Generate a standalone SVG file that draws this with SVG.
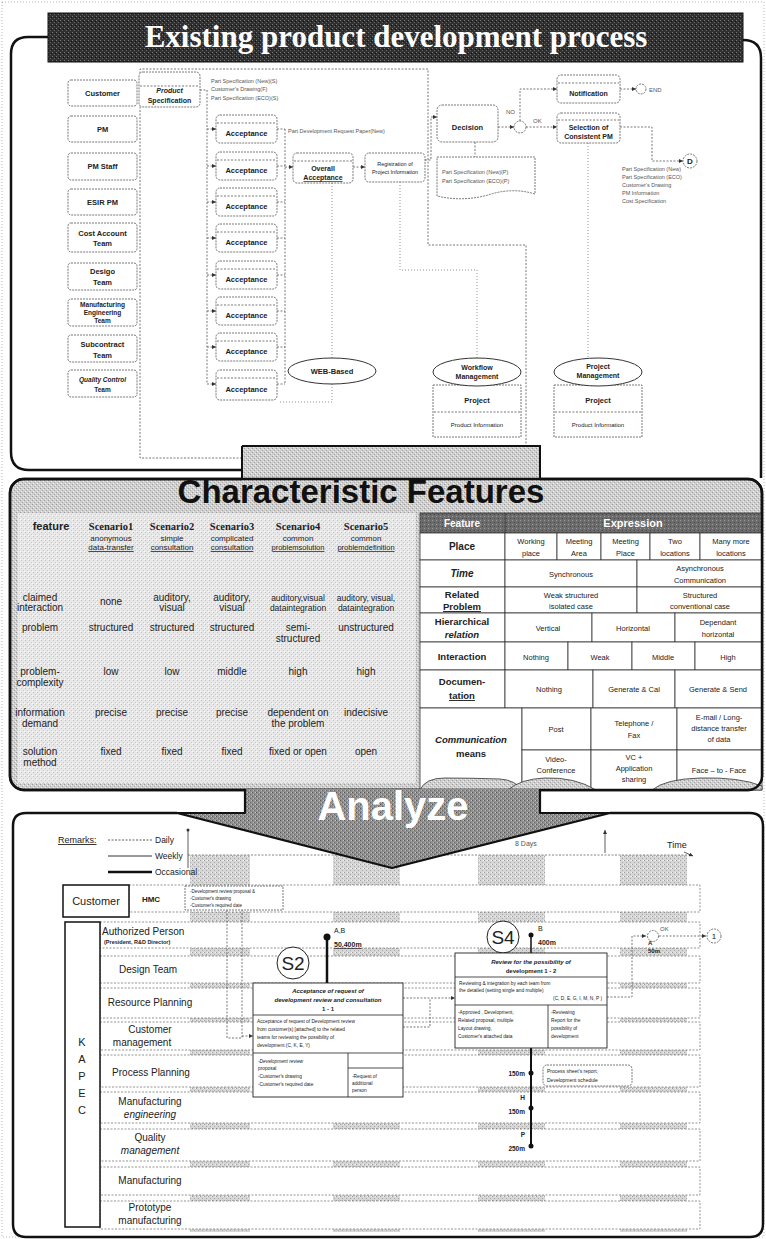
<svg xmlns="http://www.w3.org/2000/svg" width="766" height="1239" viewBox="0 0 766 1239">
<defs>
<pattern id="pg" width="4" height="4" patternUnits="userSpaceOnUse"><rect width="4" height="4" fill="#cfcfcf"/><rect x="0" y="0" width="1" height="1" fill="#999"/><rect x="2" y="2" width="1" height="1" fill="#a8a8a8"/><rect x="3" y="1" width="1" height="1" fill="#eee"/><rect x="1" y="3" width="1" height="1" fill="#eee"/></pattern>
<pattern id="pt" width="4" height="4" patternUnits="userSpaceOnUse"><rect width="4" height="4" fill="#e8e8e8"/><rect x="1" y="0" width="1" height="1" fill="#c2c2c2"/><rect x="3" y="2" width="1" height="1" fill="#cacaca"/><rect x="0" y="3" width="1" height="1" fill="#fafafa"/></pattern>
<pattern id="pd" width="4" height="4" patternUnits="userSpaceOnUse"><rect width="4" height="4" fill="#8f8f8f"/><rect x="0" y="0" width="1" height="1" fill="#555"/><rect x="2" y="2" width="1" height="1" fill="#666"/><rect x="3" y="0" width="1" height="1" fill="#c4c4c4"/><rect x="1" y="2" width="1" height="1" fill="#bbb"/></pattern>
<pattern id="pk" width="4" height="4" patternUnits="userSpaceOnUse"><rect width="4" height="4" fill="#303030"/><rect x="0" y="0" width="1" height="1" fill="#777"/><rect x="2" y="2" width="1" height="1" fill="#666"/><rect x="3" y="1" width="1" height="1" fill="#111"/></pattern>
<pattern id="pl" width="4" height="4" patternUnits="userSpaceOnUse"><rect width="4" height="4" fill="#d6d6d6"/><rect x="0" y="0" width="1" height="1" fill="#a0a0a0"/><rect x="2" y="2" width="1" height="1" fill="#aaa"/><rect x="3" y="0" width="1" height="1" fill="#f2f2f2"/></pattern>
<pattern id="ph" width="4" height="4" patternUnits="userSpaceOnUse"><rect width="4" height="4" fill="#6c6c6c"/><rect x="0" y="0" width="1" height="1" fill="#999"/><rect x="2" y="2" width="1" height="1" fill="#444"/></pattern>
<marker id="ah" viewBox="0 0 6 6" refX="6" refY="3" markerWidth="5" markerHeight="5" orient="auto"><path d="M0,0L6,3L0,6z" fill="#333"/></marker>
</defs>
<style>
text{font-family:"Liberation Sans",Arial,sans-serif;fill:#222}
.c{text-anchor:middle}
.e{text-anchor:end}
.b{font-weight:bold}
.i{font-style:italic}
.u{text-decoration:underline}
.w{fill:#fff}
.g{fill:#555}
.serif{font-family:"Liberation Serif","Times New Roman",serif}
.dl{fill:none;stroke:#555;stroke-width:.8;stroke-dasharray:2 1.5}
.dt{fill:none;stroke:#777;stroke-width:.8;stroke-dasharray:1 2}
.bx{fill:#fff;stroke:#555;stroke-width:.8;stroke-dasharray:2 1}
.cell{fill:#fff;stroke:#333;stroke-width:.8}
.fr{fill:none;stroke:#111;stroke-width:2.5;stroke-linejoin:round}
.row{fill:#fff;stroke:#666;stroke-width:.7;stroke-dasharray:2 1.5}
.sb{fill:#fff;stroke:#222;stroke-width:.9}
.sl{stroke:#222;stroke-width:.8}
</style>
<rect x="2" y="2" width="762" height="1235" fill="#fff" stroke="#999" stroke-width=".7" stroke-dasharray="1 2"/>

<!-- ================= TOP SECTION ================= -->
<g id="top-frame">
<path class="fr" d="M48,37 H28 Q11,37 11,54 V452 Q11,470 29,470 H242"/>
<path class="fr" d="M743,40 Q761,40 761,58 V478"/>
<rect x="48" y="13" width="695" height="49" fill="url(#pk)" stroke="#111"/>
<text x="396" y="47" class="c serif b w" font-size="31">Existing product development process</text>
</g>

<g id="lanes">
<rect x="68" y="80" width="69" height="26" rx="3" class="bx"/><text x="102.5" y="96" class="c b" font-size="7.5">Customer</text>
<rect x="68" y="116" width="69" height="26" rx="3" class="bx"/><text x="102.5" y="132" class="c b" font-size="7.5">PM</text>
<rect x="68" y="153" width="69" height="27" rx="3" class="bx"/><text x="102.5" y="169" class="c b" font-size="7.5">PM Staff</text>
<rect x="68" y="189" width="69" height="26" rx="3" class="bx"/><text x="102.5" y="205" class="c b" font-size="7.5">ESIR PM</text>
<rect x="68" y="223" width="69" height="29" rx="3" class="bx"/><text x="102.5" y="236" class="c b" font-size="7.5">Cost Account</text><text x="102.5" y="246" class="c b" font-size="7.5">Team</text>
<rect x="68" y="263" width="69" height="27" rx="3" class="bx"/><text x="102.5" y="274" class="c b" font-size="7.5">Desigo</text><text x="102.5" y="285" class="c b" font-size="7.5">Team</text>
<rect x="68" y="299" width="69" height="27" rx="3" class="bx"/><text x="102.5" y="307" class="c b" font-size="6.5">Manufacturing</text><text x="102.5" y="315" class="c b" font-size="6.5">Engineering</text><text x="102.5" y="323" class="c b" font-size="6.5">Team</text>
<rect x="68" y="335" width="69" height="27" rx="3" class="bx"/><text x="102.5" y="347" class="c b" font-size="7.5">Subcontract</text><text x="102.5" y="358" class="c b" font-size="7.5">Team</text>
<rect x="68" y="370" width="69" height="27" rx="3" class="bx"/><text x="102.5" y="382" class="c b i" font-size="6.5">Quality Control</text><text x="102.5" y="392" class="c b" font-size="6.5">Team</text>
</g>

<g id="top-connectors">
<path class="dl" d="M242,458 H140 V69 H428 V245 H526 V450"/>
<path class="dl" d="M200,90 H207 V384"/>
<path class="dl" d="M207,129 H216" marker-end="url(#ah)"/>
<path class="dl" d="M207,166 H216" marker-end="url(#ah)"/>
<path class="dl" d="M207,202 H216" marker-end="url(#ah)"/>
<path class="dl" d="M207,238 H216" marker-end="url(#ah)"/>
<path class="dl" d="M207,275 H216" marker-end="url(#ah)"/>
<path class="dl" d="M207,311 H216" marker-end="url(#ah)"/>
<path class="dl" d="M207,347 H216" marker-end="url(#ah)"/>
<path class="dl" d="M207,384 H216" marker-end="url(#ah)"/>
<path class="dl" d="M277,129 H285 M277,166 H285 M277,202 H285 M277,238 H285 M277,275 H285 M277,311 H285 M277,347 H285 M277,384 H285 M285,129 V384"/>
<path class="dl" d="M285,167 H293" marker-end="url(#ah)"/>
<path class="dl" d="M353,167 H365" marker-end="url(#ah)"/>
<path class="dl" d="M425,160 H431 V117 H437" marker-end="url(#ah)"/>
<path class="dl" d="M498,127 H514" marker-end="url(#ah)"/>
<path class="dl" d="M520,121 V89 H557" marker-end="url(#ah)"/>
<path class="dl" d="M526,127 H557" marker-end="url(#ah)"/>
<path class="dl" d="M620,89 H636" marker-end="url(#ah)"/>
<path class="dl" d="M620,127 H652 V161 H683" marker-end="url(#ah)"/>
<path class="dl" d="M475,142 V157"/>
<path class="dt" d="M332,183 V358"/>
<path class="dt" d="M280,402 H332 V384"/>
<path class="dt" d="M400,182 V270 H477 V358"/>
<path class="dt" d="M588,143 V358"/>
<text x="288" y="133" font-size="5.5" class="g">Part Development Request Paper(New)</text>
<text x="506" y="114" font-size="6" class="g">NO</text>
<text x="533" y="123" font-size="6" class="g">OK</text>
</g>

<g id="product-spec">
<rect x="139" y="72" width="61" height="35" rx="4" class="bx"/>
<line x1="140" y1="86" x2="199" y2="86" class="dl"/>
<text x="169.5" y="93" class="c b i" font-size="7">Product</text>
<text x="169.5" y="103" class="c b" font-size="7">Specification</text>
<text x="211" y="83" font-size="5.5" class="g">Part Specification (New)(S)</text>
<text x="211" y="91" font-size="5.5" class="g">Customer's Drawing(F)</text>
<text x="211" y="100" font-size="5.5" class="g">Part Specification (ECO)(S)</text>
</g>

<g id="acceptance-boxes">
<g id="acc1"><rect x="216" y="115" width="61" height="28" rx="4" class="bx"/><line x1="217" y1="123" x2="276" y2="123" class="dl"/><text x="246.5" y="136" class="c b" font-size="7.5">Acceptance</text></g>
<g id="acc2"><rect x="216" y="152" width="61" height="28" rx="4" class="bx"/><line x1="217" y1="160" x2="276" y2="160" class="dl"/><text x="246.5" y="173" class="c b" font-size="7.5">Acceptance</text></g>
<g id="acc3"><rect x="216" y="188" width="61" height="28" rx="4" class="bx"/><line x1="217" y1="196" x2="276" y2="196" class="dl"/><text x="246.5" y="209" class="c b" font-size="7.5">Acceptance</text></g>
<g id="acc4"><rect x="216" y="224" width="61" height="28" rx="4" class="bx"/><line x1="217" y1="232" x2="276" y2="232" class="dl"/><text x="246.5" y="245" class="c b" font-size="7.5">Acceptance</text></g>
<g id="acc5"><rect x="216" y="261" width="61" height="28" rx="4" class="bx"/><line x1="217" y1="269" x2="276" y2="269" class="dl"/><text x="246.5" y="282" class="c b" font-size="7.5">Acceptance</text></g>
<g id="acc6"><rect x="216" y="297" width="61" height="28" rx="4" class="bx"/><line x1="217" y1="305" x2="276" y2="305" class="dl"/><text x="246.5" y="318" class="c b" font-size="7.5">Acceptance</text></g>
<g id="acc7"><rect x="216" y="333" width="61" height="28" rx="4" class="bx"/><line x1="217" y1="341" x2="276" y2="341" class="dl"/><text x="246.5" y="354" class="c b" font-size="7.5">Acceptance</text></g>
<g id="acc8"><rect x="216" y="370" width="61" height="30" rx="4" class="bx"/><line x1="217" y1="378" x2="276" y2="378" class="dl"/><text x="246.5" y="392" class="c b" font-size="7.5">Acceptance</text></g>
</g>

<g id="overall"><rect x="293" y="153" width="60" height="30" rx="4" class="bx"/><line x1="294" y1="161" x2="352" y2="161" class="dl"/><text x="323" y="171" class="c b" font-size="7">Overall</text><text x="323" y="180" class="c b u" font-size="7">Acceptance</text></g>
<g id="registration"><rect x="365" y="153" width="60" height="29" rx="4" class="bx"/><text x="395" y="166" class="c" font-size="5.5">Registration of</text><text x="395" y="174" class="c" font-size="5.5">Project Information</text></g>
<g id="decision"><rect x="437" y="105" width="61" height="37" rx="5" class="bx"/><text x="467.5" y="130" class="c b" font-size="7.5">Decision</text></g>
<g id="gateway"><circle cx="520" cy="127" r="6" class="bx"/></g>
<g id="notification"><rect x="557" y="75" width="63" height="28" rx="4" class="bx"/><line x1="558" y1="83" x2="619" y2="83" class="dl"/><text x="588.5" y="96" class="c b" font-size="7">Notification</text></g>
<g id="selection"><rect x="557" y="113" width="63" height="30" rx="4" class="bx"/><line x1="558" y1="120" x2="619" y2="120" class="dl"/><text x="588.5" y="130" class="c b" font-size="7">Selection of</text><text x="588.5" y="139" class="c b" font-size="7">Consistent PM</text></g>
<g id="end"><circle cx="641" cy="89" r="5" class="bx"/><text x="649" y="92" font-size="6" class="g">END</text></g>
<g id="node-d"><circle cx="690" cy="161" r="7" class="bx"/><text x="690" y="164" class="c b" font-size="8">D</text>
<text x="622" y="171" font-size="5.5" class="g">Part Specification (New)</text>
<text x="622" y="179" font-size="5.5" class="g">Part Specification (ECO)</text>
<text x="622" y="187" font-size="5.5" class="g">Customer's Drawing</text>
<text x="622" y="195" font-size="5.5" class="g">PM Information</text>
<text x="622" y="203" font-size="5.5" class="g">Cost Specification</text></g>
<g id="doc"><path d="M437,157 H535 V194 Q512,187 488,195 Q462,202 437,196 Z" class="bx"/><text x="442" y="174" font-size="5.5" class="g">Part Specification (New)(P)</text><text x="442" y="183" font-size="5.5" class="g">Part Specification (ECO)(P)</text></g>
<g id="web"><ellipse cx="332" cy="371" rx="44" ry="13" fill="#fff" stroke="#333" stroke-width="1"/><text x="332" y="374" class="c b" font-size="7.5">WEB-Based</text></g>
<g id="workflow"><rect x="433" y="385" width="88" height="52" class="bx"/><line x1="434" y1="412" x2="520" y2="412" class="dl"/><ellipse cx="477" cy="372" rx="44" ry="14" fill="#fff" stroke="#333" stroke-width="1"/><text x="477" y="370" class="c b" font-size="7">Workflow</text><text x="477" y="379" class="c b" font-size="7">Management</text><text x="477" y="403" class="c b" font-size="7.5">Project</text><text x="477" y="427" class="c" font-size="6">Product Information</text></g>
<g id="projmgmt"><rect x="554" y="385" width="88" height="52" class="bx"/><line x1="555" y1="412" x2="641" y2="412" class="dl"/><ellipse cx="598" cy="372" rx="44" ry="14" fill="#fff" stroke="#333" stroke-width="1"/><text x="598" y="369" class="c b" font-size="7">Project</text><text x="598" y="378" class="c b" font-size="7">Management</text><text x="598" y="403" class="c b" font-size="7.5">Project</text><text x="598" y="427" class="c" font-size="6">Product Information</text></g>

<!-- ================= MIDDLE SECTION ================= -->
<g id="mid-frame">
<rect x="10" y="479" width="752" height="311" rx="14" fill="url(#pg)" stroke="#111" stroke-width="2.5"/>
<path d="M242,446 H540 V481 H242 Z" fill="url(#pg)"/>
<path d="M242,446 H540 V478 M242,446 V480" fill="none" stroke="#111" stroke-width="2"/>
<rect x="18" y="513" width="398" height="270" fill="url(#pt)"/>
<text x="361" y="503" class="c b" font-size="33" style="fill:#111">Characteristic Features</text>
</g>

<g id="scenario-table">
<text x="51" y="530" class="c b" font-size="11">feature</text>
<text x="111" y="530" class="c b serif" font-size="10.5">Scenario1</text>
<text x="172" y="530" class="c b serif" font-size="10.5">Scenario2</text>
<text x="232" y="530" class="c b serif" font-size="10.5">Scenario3</text>
<text x="298" y="530" class="c b serif" font-size="10.5">Scenario4</text>
<text x="366" y="530" class="c b serif" font-size="10.5">Scenario5</text>
<text x="111" y="541" class="c" font-size="8">anonymous</text>
<text x="172" y="541" class="c" font-size="8">simple</text>
<text x="232" y="541" class="c" font-size="8">complicated</text>
<text x="298" y="541" class="c" font-size="8">common</text>
<text x="366" y="541" class="c" font-size="8">common</text>
<text x="111" y="550" class="c u" font-size="8">data-transfer</text>
<text x="172" y="550" class="c u" font-size="8">consultation</text>
<text x="232" y="550" class="c u" font-size="8">consultation</text>
<text x="298" y="550" class="c u" font-size="7.5">problemsolution</text>
<text x="366" y="550" class="c u" font-size="7.5">problemdefinition</text>
<text x="40" y="601" class="c" font-size="10">claimed</text>
<text x="40" y="611" class="c" font-size="10">interaction</text>
<text x="111" y="605" class="c" font-size="10">none</text>
<text x="172" y="601" class="c" font-size="10">auditory,</text><text x="172" y="611" class="c" font-size="10">visual</text>
<text x="232" y="601" class="c" font-size="10">auditory,</text><text x="232" y="611" class="c" font-size="10">visual</text>
<text x="298" y="601" class="c" font-size="8.5">auditory,visual</text><text x="298" y="611" class="c" font-size="8.5">dataintegration</text>
<text x="366" y="601" class="c" font-size="8.5">auditory, visual,</text><text x="366" y="611" class="c" font-size="8.5">dataintegration</text>
<text x="40" y="631" class="c" font-size="10">problem</text>
<text x="111" y="631" class="c" font-size="10">structured</text>
<text x="172" y="631" class="c" font-size="10">structured</text>
<text x="232" y="631" class="c" font-size="10">structured</text>
<text x="298" y="631" class="c" font-size="10">semi-</text><text x="298" y="642" class="c" font-size="10">structured</text>
<text x="366" y="631" class="c" font-size="10">unstructured</text>
<text x="40" y="675" class="c" font-size="10">problem-</text><text x="40" y="686" class="c" font-size="10">complexity</text>
<text x="111" y="675" class="c" font-size="10">low</text>
<text x="172" y="675" class="c" font-size="10">low</text>
<text x="232" y="675" class="c" font-size="10">middle</text>
<text x="298" y="675" class="c" font-size="10">high</text>
<text x="366" y="675" class="c" font-size="10">high</text>
<text x="40" y="716" class="c" font-size="10">information</text><text x="40" y="727" class="c" font-size="10">demand</text>
<text x="111" y="716" class="c" font-size="10">precise</text>
<text x="172" y="716" class="c" font-size="10">precise</text>
<text x="232" y="716" class="c" font-size="10">precise</text>
<text x="298" y="716" class="c" font-size="10">dependent on</text><text x="298" y="727" class="c" font-size="10">the problem</text>
<text x="366" y="716" class="c" font-size="10">indecisive</text>
<text x="40" y="755" class="c" font-size="10">solution</text><text x="40" y="766" class="c" font-size="10">method</text>
<text x="111" y="755" class="c" font-size="10">fixed</text>
<text x="172" y="755" class="c" font-size="10">fixed</text>
<text x="232" y="755" class="c" font-size="10">fixed</text>
<text x="298" y="755" class="c" font-size="10">fixed or open</text>
<text x="366" y="755" class="c" font-size="10">open</text>
</g>

<g id="expression-table">
<rect x="420" y="513" width="342" height="20" fill="url(#ph)" stroke="#333" stroke-width=".8"/>
<line x1="505" y1="513" x2="505" y2="533" stroke="#333" stroke-width=".8"/>
<text x="462" y="527" class="c b w" font-size="10">Feature</text>
<text x="633" y="527" class="c b w" font-size="11">Expression</text>
<rect x="420" y="533" width="85" height="27" class="cell"/><text x="462" y="550" class="c b" font-size="10">Place</text>
<rect x="505" y="533" width="52" height="27" class="cell"/><rect x="557" y="533" width="44" height="27" class="cell"/><rect x="601" y="533" width="49" height="27" class="cell"/><rect x="650" y="533" width="50" height="27" class="cell"/><rect x="700" y="533" width="62" height="27" class="cell"/>
<text x="531" y="544" class="c" font-size="7.5">Working</text><text x="531" y="556" class="c" font-size="7.5">place</text>
<text x="579" y="544" class="c" font-size="7.5">Meeting</text><text x="579" y="556" class="c" font-size="7.5">Area</text>
<text x="625.5" y="544" class="c" font-size="7.5">Meeting</text><text x="625.5" y="556" class="c" font-size="7.5">Place</text>
<text x="675" y="544" class="c" font-size="7.5">Two</text><text x="675" y="556" class="c" font-size="7.5">locations</text>
<text x="731" y="544" class="c" font-size="7.5">Many more</text><text x="731" y="556" class="c" font-size="7.5">locations</text>
<rect x="420" y="560" width="85" height="27" class="cell"/><text x="462" y="577" class="c b i" font-size="10">Time</text>
<rect x="505" y="560" width="132" height="27" class="cell"/><rect x="637" y="560" width="125" height="27" class="cell"/>
<text x="571" y="577" class="c" font-size="7.5">Synchronous</text>
<text x="700" y="571" class="c" font-size="7.5">Asynchronous</text><text x="700" y="583" class="c" font-size="7.5">Communication</text>
<rect x="420" y="587" width="85" height="26" class="cell"/><text x="462" y="598" class="c b" font-size="9.5">Related</text><text x="462" y="610" class="c b u" font-size="9.5">Problem</text>
<rect x="505" y="587" width="132" height="26" class="cell"/><rect x="637" y="587" width="125" height="26" class="cell"/>
<text x="571" y="598" class="c" font-size="7.5">Weak structured</text><text x="571" y="609" class="c" font-size="7.5">isolated case</text>
<text x="700" y="598" class="c" font-size="7.5">Structured</text><text x="700" y="609" class="c" font-size="7.5">conventional case</text>
<rect x="420" y="613" width="85" height="29" class="cell"/><text x="462" y="625" class="c b" font-size="9.5">Hierarchical</text><text x="462" y="638" class="c b i" font-size="9.5">relation</text>
<rect x="505" y="613" width="87" height="29" class="cell"/><rect x="592" y="613" width="83" height="29" class="cell"/><rect x="675" y="613" width="87" height="29" class="cell"/>
<text x="548" y="631" class="c" font-size="7.5">Vertical</text>
<text x="633" y="631" class="c" font-size="7.5">Horizontal</text>
<text x="718" y="625" class="c" font-size="7.5">Dependant</text><text x="718" y="637" class="c" font-size="7.5">horizontal</text>
<rect x="420" y="642" width="85" height="28" class="cell"/><text x="462" y="660" class="c b" font-size="9.5">Interaction</text>
<rect x="505" y="642" width="63" height="28" class="cell"/><rect x="568" y="642" width="64" height="28" class="cell"/><rect x="632" y="642" width="63" height="28" class="cell"/><rect x="695" y="642" width="67" height="28" class="cell"/>
<text x="536" y="660" class="c" font-size="7.5">Nothing</text>
<text x="600" y="660" class="c" font-size="7.5">Weak</text>
<text x="663" y="660" class="c" font-size="7.5">Middle</text>
<text x="728" y="660" class="c" font-size="7.5">High</text>
<rect x="420" y="670" width="85" height="38" class="cell"/><text x="462" y="685" class="c b" font-size="9.5">Documen-</text><text x="462" y="699" class="c b u" font-size="9.5">tation</text>
<rect x="505" y="670" width="88" height="38" class="cell"/><rect x="593" y="670" width="82" height="38" class="cell"/><rect x="675" y="670" width="87" height="38" class="cell"/>
<text x="549" y="692" class="c" font-size="7.5">Nothing</text>
<text x="634" y="692" class="c" font-size="7.5">Generate &amp; Cal</text>
<text x="718" y="692" class="c" font-size="7.5">Generate &amp; Send</text>
<rect x="420" y="708" width="102" height="82" class="cell"/><text x="471" y="743" class="c b i" font-size="9.5">Communication</text><text x="471" y="757" class="c b" font-size="9.5">means</text>
<rect x="522" y="708" width="69" height="42" class="cell"/><rect x="591" y="708" width="86" height="42" class="cell"/><rect x="677" y="708" width="85" height="42" class="cell"/>
<rect x="522" y="750" width="69" height="40" class="cell"/><rect x="591" y="750" width="86" height="40" class="cell"/><rect x="677" y="750" width="85" height="40" class="cell"/>
<text x="556" y="732" class="c" font-size="7.5">Post</text>
<text x="634" y="726" class="c" font-size="7.5">Telephone /</text><text x="634" y="738" class="c" font-size="7.5">Fax</text>
<text x="719" y="720" class="c" font-size="7.5">E-mail / Long-</text><text x="719" y="731" class="c" font-size="7.5">distance transfer</text><text x="719" y="742" class="c" font-size="7.5">of data</text>
<text x="556" y="762" class="c" font-size="7.5">Video-</text><text x="556" y="773" class="c" font-size="7.5">Conference</text>
<text x="634" y="760" class="c" font-size="7.5">VC +</text><text x="634" y="771" class="c" font-size="7.5">Application</text><text x="634" y="782" class="c" font-size="7.5">sharing</text>
<text x="719" y="773" class="c" font-size="7.5">Face – to - Face</text>
<path d="M420,790 Q425,778 445,778 Q470,778 500,779 Q515,780 522,790 Z" fill="url(#pg)" stroke="#333" stroke-width=".8"/>
<path d="M508,790 Q520,779 545,778 Q575,777 596,790 Z" fill="url(#pg)" stroke="#333" stroke-width=".8"/>
<path d="M652,790 Q665,779 700,778 Q740,777 762,786 V790 Z" fill="url(#pg)" stroke="#333" stroke-width=".8"/>
<rect x="10" y="479" width="752" height="311" rx="14" fill="none" stroke="#111" stroke-width="2.5"/>
</g>

<!-- ================= BOTTOM SECTION ================= -->
<g id="bottom-bg">
<rect x="190" y="855" width="60" height="377" fill="url(#pl)"/>
<rect x="333" y="855" width="67" height="377" fill="url(#pl)"/>
<rect x="478" y="855" width="67" height="377" fill="url(#pl)"/>
<rect x="620" y="855" width="67" height="377" fill="url(#pl)"/>
<path class="fr" d="M177,813 H26 Q13,813 13,826 V1224 Q13,1237 26,1237 H750 Q763,1237 763,1224 V826 Q763,813 750,813 H610"/>
</g>

<g id="legend">
<text x="58" y="843" font-size="9" class="u">Remarks:</text>
<line x1="108" y1="840" x2="152" y2="840" stroke="#333" stroke-width=".8" stroke-dasharray="2 1.5"/><text x="155" y="843" font-size="8.5">Daily</text>
<line x1="108" y1="856" x2="152" y2="856" stroke="#333" stroke-width="1"/><text x="155" y="859" font-size="8.5">Weekly</text>
<line x1="108" y1="872" x2="152" y2="872" stroke="#111" stroke-width="2.5"/><text x="155" y="875" font-size="8.5">Occasional</text>
</g>

<g id="time-axis">
<line x1="188" y1="855" x2="690" y2="855" stroke="#666" stroke-width=".8" stroke-dasharray="2 1.5"/>
<line x1="188" y1="830" x2="188" y2="868" stroke="#333" stroke-width=".8"/>
<circle cx="188" cy="830" r="1.5" fill="#333"/>
<path d="M605,853 V830" stroke="#333" stroke-width=".8" marker-end="url(#ah)"/>
<text x="515" y="846" font-size="7" class="g">8 Days</text>
<text x="667" y="848" font-size="9">Time</text>
<path d="M684,852 L693,856" stroke="#333" stroke-width=".8" marker-end="url(#ah)"/>
</g>

<g id="rows">
<rect x="129" y="885" width="571" height="27" class="row"/>
<rect x="100" y="922" width="600" height="26" class="row"/>
<rect x="100" y="956" width="600" height="27" class="row"/>
<rect x="100" y="988" width="600" height="30" class="row"/>
<rect x="100" y="1022" width="600" height="28" class="row"/>
<rect x="100" y="1055" width="600" height="32" class="row"/>
<rect x="100" y="1092" width="600" height="31" class="row"/>
<rect x="100" y="1129" width="600" height="32" class="row"/>
<rect x="100" y="1167" width="600" height="28" class="row"/>
<rect x="100" y="1201" width="600" height="28" class="row"/>
</g>

<g id="customer">
<rect x="63" y="885" width="66" height="32" fill="#fff" stroke="#111" stroke-width="1.5"/>
<text x="96" y="905" class="c" font-size="11">Customer</text>
<text x="151" y="902" class="c b" font-size="8">HMC</text>
<rect x="185" y="886" width="98" height="24" class="bx"/>
<text x="190" y="893" font-size="4.5">-Development review proposal &amp;</text>
<text x="190" y="900" font-size="4.5">-Customer's drawing</text>
<text x="190" y="907" font-size="4.5">-Customer's required date</text>
</g>

<g id="kapec">
<rect x="65" y="922" width="35" height="305" fill="#fff" stroke="#111" stroke-width="1.5"/>
<text x="82" y="1046" class="c" font-size="11">K</text>
<text x="82" y="1063" class="c" font-size="11">A</text>
<text x="82" y="1080" class="c" font-size="11">P</text>
<text x="82" y="1097" class="c" font-size="11">E</text>
<text x="82" y="1114" class="c" font-size="11">C</text>
</g>

<g id="row-labels">
<text x="102" y="935" font-size="10">Authorized Person</text>
<text x="104" y="944" font-size="5.5" class="b">(President, R&amp;D Director)</text>
<text x="148" y="973" class="c" font-size="10">Design Team</text>
<text x="150" y="1006" class="c" font-size="10">Resource Planning</text>
<text x="150" y="1033" class="c" font-size="10">Customer</text>
<text x="142" y="1046" class="c" font-size="10">management</text>
<text x="151" y="1076" class="c" font-size="10">Process Planning</text>
<text x="150" y="1105" class="c" font-size="10">Manufacturing</text>
<text x="150" y="1118" class="c i" font-size="10">engineering</text>
<text x="150" y="1141" class="c" font-size="10">Quality</text>
<text x="150" y="1154" class="c i" font-size="10">management</text>
<text x="150" y="1184" class="c" font-size="10">Manufacturing</text>
<text x="150" y="1211" class="c" font-size="10">Prototype</text>
<text x="150" y="1224" class="c" font-size="10">manufacturing</text>
</g>

<g id="bottom-connectors">
<path class="dl" d="M227,910 V1038 H242 V910"/>
<path class="dl" d="M242,1036 H253" marker-end="url(#ah)"/>
<path class="dl" d="M403,998 H455" marker-end="url(#ah)"/>
<path class="dl" d="M403,1027 H430 V998"/>
<path class="dl" d="M607,997 H632 V936 H646" marker-end="url(#ah)"/>
<path class="dl" d="M659,936 H706" marker-end="url(#ah)"/>
<line x1="327" y1="937" x2="327" y2="983" stroke="#111" stroke-width="2.5"/>
<circle cx="327" cy="937" r="3.5" fill="#111"/>
<line x1="531" y1="935" x2="531" y2="953" stroke="#111" stroke-width="1.5"/>
<circle cx="531" cy="935" r="2.5" fill="#111"/>
<line x1="531" y1="1048" x2="531" y2="1146" stroke="#111" stroke-width="2"/>
<circle cx="531" cy="1073" r="2.5" fill="#111"/>
<circle cx="531" cy="1108" r="2.5" fill="#111"/>
<circle cx="531" cy="1146" r="2.5" fill="#111"/>
<text x="334" y="933" font-size="7">A,B</text>
<text x="334" y="947" font-size="7" class="b u">50,400m</text>
<text x="538" y="931" font-size="7">B</text>
<text x="538" y="945" font-size="7" class="b">400m</text>
<text x="525" y="1076" class="e b" font-size="6.5">150m</text>
<text x="525" y="1100" class="e b" font-size="6.5">H</text>
<text x="525" y="1114" class="e b" font-size="6.5">150m</text>
<text x="525" y="1137" class="e b" font-size="6.5">P</text>
<text x="525" y="1151" class="e b" font-size="6.5">250m</text>
</g>

<g id="s2">
<circle cx="293" cy="963" r="16" fill="#fff" stroke="#222" stroke-width="1"/>
<text x="293" y="970" class="c" font-size="19">S2</text>
<rect x="253" y="983" width="150" height="114" class="sb"/>
<line x1="253" y1="1015" x2="403" y2="1015" class="sl"/>
<line x1="253" y1="1053" x2="403" y2="1053" class="sl"/>
<line x1="348" y1="1053" x2="348" y2="1097" class="sl"/>
<line x1="348" y1="1068" x2="403" y2="1068" class="sl"/>
<text x="328" y="993" class="c b i" font-size="6">Acceptance of request of</text>
<text x="328" y="1002" class="c b i" font-size="6">development review and consultation</text>
<text x="328" y="1011" class="c b" font-size="6">1 - 1</text>
<text x="257" y="1023" font-size="4.8">Acceptance of request of Development review</text>
<text x="257" y="1031" font-size="4.8">from customer(s) [attached] to the related</text>
<text x="257" y="1039" font-size="4.8">teams for reviewing the possibility of</text>
<text x="257" y="1047" font-size="4.8">development                        (C, K, E, Y)</text>
<text x="258" y="1063" class="i" font-size="4.8">-Development review</text>
<text x="258" y="1070" font-size="4.8">  proposal</text>
<text x="258" y="1078" font-size="4.8">-Customer's drawing</text>
<text x="258" y="1086" font-size="4.8">-Customer's required date</text>
<text x="352" y="1078" font-size="4.8">-Request of</text>
<text x="352" y="1085" font-size="4.8">additional</text>
<text x="352" y="1092" font-size="4.8">person</text>
</g>

<g id="s4">
<circle cx="503" cy="937" r="16" fill="#fff" stroke="#222" stroke-width="1"/>
<text x="503" y="944" class="c" font-size="19">S4</text>
<rect x="455" y="953" width="152" height="95" class="sb"/>
<line x1="455" y1="977" x2="607" y2="977" class="sl"/>
<line x1="455" y1="1005" x2="607" y2="1005" class="sl"/>
<line x1="548" y1="1005" x2="548" y2="1048" class="sl"/>
<text x="531" y="964" class="c b i" font-size="6">Review for the possibility of</text>
<text x="531" y="973" class="c b" font-size="6">development  1 - 2</text>
<text x="459" y="985" font-size="4.8">Reviewing &amp; integration by each team from</text>
<text x="459" y="992" font-size="4.8">the detailed (setting single and multiple)</text>
<text x="602" y="1000" class="e" font-size="4.8">(C, D, E, G, I, M, N, P )</text>
<text x="458" y="1014" font-size="4.8">-Approved , Development,</text>
<text x="458" y="1022" font-size="4.8">Related proposal, multiple</text>
<text x="458" y="1030" font-size="4.8">Layout drawing,</text>
<text x="458" y="1038" font-size="4.8">Customer's attached data</text>
<text x="551" y="1014" font-size="4.8">-Reviewing</text>
<text x="551" y="1022" font-size="4.8">Report for the</text>
<text x="551" y="1030" font-size="4.8">possibility of</text>
<text x="551" y="1038" font-size="4.8">development</text>
</g>

<g id="callout">
<rect x="543" y="1065" width="89" height="21" rx="4" class="bx"/>
<text x="547" y="1073" font-size="5">Process sheet's report,</text>
<text x="547" y="1082" font-size="5">Development schedule</text>
</g>

<g id="ok-gate">
<circle cx="653" cy="936" r="5.5" class="bx"/>
<text x="660" y="931" font-size="6" class="g">OK</text>
<text x="648" y="945" font-size="6" class="b">A</text>
<text x="648" y="953" font-size="6" class="b">50m</text>
<circle cx="714" cy="936" r="7" class="bx"/>
<text x="714" y="939" class="c" font-size="8">1</text>
</g>

<g id="analyze-arrow">
<path d="M245,789 V813 H177 L392,868 L610,813 H540 V789" fill="url(#pd)" stroke="#111" stroke-width="2.2" stroke-linejoin="round"/>
<text x="393" y="820" class="c b w" font-size="40">Analyze</text>
</g>
</svg>
